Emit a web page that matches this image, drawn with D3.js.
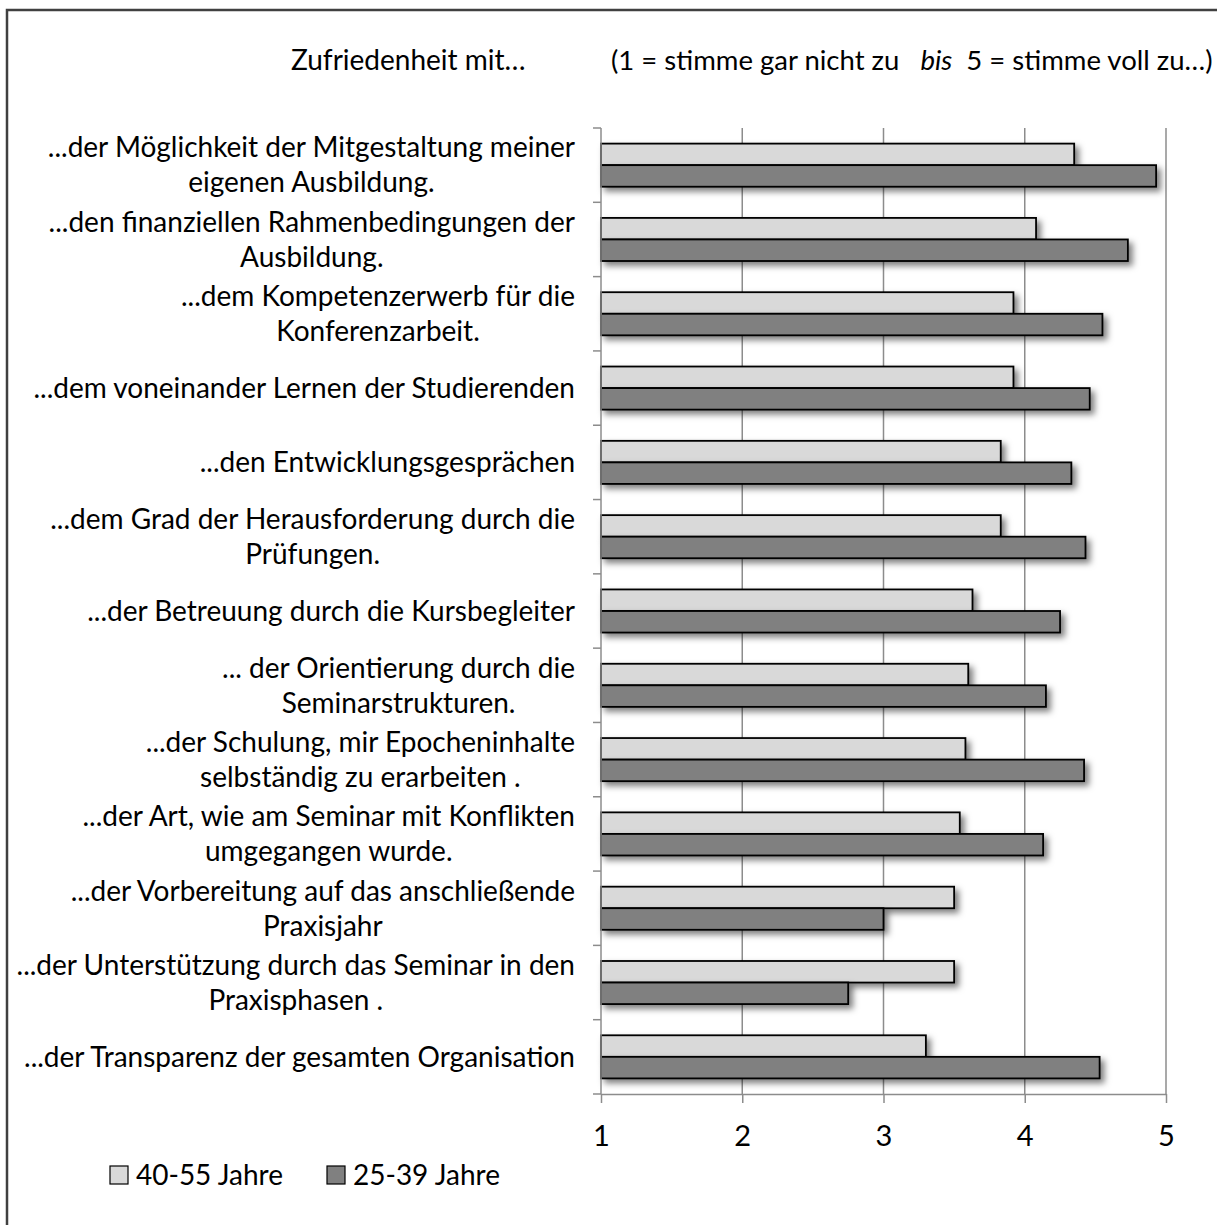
<!DOCTYPE html>
<html>
<head>
<meta charset="utf-8">
<script src="https://cdn.jsdelivr.net/npm/d3@7"></script>
<style>
  body { margin: 0; background: #fff; }
  svg text { font-family: Lato, "Open Sans", sans-serif; fill: #000; }
</style>
</head>
<body>
<svg id="chart" width="1217" height="1225"></svg>
<script>
// categories, top to bottom (line breaks as in the original labels)
const categories = [
    "...der Möglichkeit der Mitgestaltung meiner\neigenen Ausbildung.",
    "...den finanziellen Rahmenbedingungen der\nAusbildung.",
    "...dem Kompetenzerwerb für die\nKonferenzarbeit.",
    "...dem voneinander Lernen der Studierenden",
    "...den Entwicklungsgesprächen",
    "...dem Grad der Herausforderung durch die\nPrüfungen.",
    "...der Betreuung durch die Kursbegleiter",
    "... der Orientierung durch die\nSeminarstrukturen.",
    "...der Schulung, mir Epocheninhalte\nselbständig zu erarbeiten .",
    "...der Art, wie am Seminar mit Konflikten\numgegangen wurde.",
    "...der Vorbereitung auf das anschließende\nPraxisjahr",
    "...der Unterstützung durch das Seminar in den\nPraxisphasen .",
    "...der Transparenz der gesamten Organisation"
];
const seriesNames = ["40-55 Jahre", "25-39 Jahre"];
const valuesOlder = [4.35, 4.08, 3.92, 3.92, 3.83, 3.83, 3.63, 3.6, 3.58, 3.54, 3.5, 3.5, 3.3];
const valuesYounger = [4.93, 4.73, 4.55, 4.46, 4.33, 4.43, 4.25, 4.15, 4.42, 4.13, 3.0, 2.75, 4.53];
const xTicks = [1, 2, 3, 4, 5];
const seriesColors = ["#d9d9d9", "#808080"];

const svg = d3.select("#chart");

// outer frame (runs off the right and bottom edge)
svg.append("rect")
    .attr("x", 7).attr("y", 10)
    .attr("width", 1300).attr("height", 1300)
    .attr("fill", "none")
    .attr("stroke", "#404040")
    .attr("stroke-width", 2.5);

// drop shadow for the bars
const defs = svg.append("defs");
const shadow = defs.append("filter")
    .attr("id", "barShadow")
    .attr("x", "-5%").attr("y", "-40%")
    .attr("width", "115%").attr("height", "200%");
shadow.append("feDropShadow")
    .attr("dx", 4).attr("dy", 4)
    .attr("stdDeviation", 3)
    .attr("flood-color", "#000")
    .attr("flood-opacity", 0.5);

const x = d3.scaleLinear().domain([1, 5]).range([601, 1166]);
const y = d3.scaleBand().domain(d3.range(categories.length)).range([128, 1094]).padding(0);
const ySub = d3.scaleBand().domain([0, 1]).range([y.bandwidth() * 0.21, y.bandwidth() * 0.79]);

// vertical gridlines
svg.append("g")
    .selectAll("line")
    .data(xTicks.slice(1))
    .join("line")
    .attr("x1", (d) => x(d)).attr("x2", (d) => x(d))
    .attr("y1", 128).attr("y2", 1094)
    .attr("stroke", "#8c8c8c")
    .attr("stroke-width", 1.5);

// bars
const rows = categories.map((c, i) => ({ i: i, vals: [valuesOlder[i], valuesYounger[i]] }));
const barGroups = svg.append("g")
    .selectAll("g")
    .data(rows)
    .join("g")
    .attr("transform", (d) => "translate(0," + y(d.i) + ")");

barGroups.selectAll("rect")
    .data((d) => d.vals.map((v, s) => ({ v: v, s: s })))
    .join("rect")
    .attr("x", x(1))
    .attr("y", (d) => ySub(d.s))
    .attr("width", (d) => x(d.v) - x(1))
    .attr("height", ySub.bandwidth())
    .attr("fill", (d) => seriesColors[d.s])
    .attr("stroke", "#000")
    .attr("stroke-width", 1.8)
    .attr("filter", "url(#barShadow)");

// bottom axis
const xAxis = svg.append("g")
    .attr("transform", "translate(0,1094)")
    .call(d3.axisBottom(x).tickValues(xTicks).tickFormat(d3.format("d")).tickSize(9).tickSizeOuter(0).tickPadding(22));
xAxis.select(".domain").attr("stroke", "#8c8c8c").attr("stroke-width", 1.5);
xAxis.selectAll(".tick line").attr("stroke", "#8c8c8c").attr("stroke-width", 1.5);
xAxis.selectAll(".tick text").attr("font-size", 29).attr("font-family", "Lato, sans-serif").attr("fill", "#000");

// left axis line with tick marks on the band edges
svg.append("line")
    .attr("x1", x(1)).attr("x2", x(1))
    .attr("y1", 128).attr("y2", 1094)
    .attr("stroke", "#8c8c8c").attr("stroke-width", 1.5);
const bandEdges = d3.range(categories.length + 1).map((i) => (i < categories.length ? y(i) : y.range()[1]));
svg.append("g")
    .selectAll("line")
    .data(bandEdges)
    .join("line")
    .attr("x1", x(1) - 8).attr("x2", x(1))
    .attr("y1", (d) => d).attr("y2", (d) => d)
    .attr("stroke", "#8c8c8c").attr("stroke-width", 1.5);

// category labels: block right aligned, lines centred inside the block
const labelSize = 28;
const lineHeight = 35;
const labelRight = 575;
const labelGroups = svg.append("g")
    .selectAll("text")
    .data(categories)
    .join("text")
    .attr("font-size", labelSize)
    .attr("text-anchor", "middle");

labelGroups.each(function (d, i) {
    const lines = d.split("\n");
    const t = d3.select(this);
    const cy = y(i) + y.bandwidth() / 2;
    const top = cy - ((lines.length - 1) * lineHeight) / 2;
    lines.forEach((ln, k) => {
        t.append("tspan")
            .attr("y", top + k * lineHeight)
            .attr("dy", "0.35em")
            .text(ln);
    });
    // centre every line on the widest one
    let maxW = 0;
    t.selectAll("tspan").each(function () {
        maxW = Math.max(maxW, this.getComputedTextLength());
    });
    t.selectAll("tspan").attr("x", labelRight - maxW / 2);
});

// title line
svg.append("text")
    .attr("x", 291).attr("y", 70)
    .attr("font-size", labelSize)
    .text("Zufriedenheit mit…");
const scaleNote = svg.append("text")
    .attr("x", 611).attr("y", 70)
    .attr("font-size", 27.5)
    .attr("xml:space", "preserve");
scaleNote.append("tspan").text("(1 = stimme gar nicht zu   ");
scaleNote.append("tspan").attr("font-style", "italic").text("bis");
scaleNote.append("tspan").text("  5 = stimme voll zu…)");

// legend
const legendX = [110, 327];
const legend = svg.append("g")
    .selectAll("g")
    .data(seriesNames)
    .join("g")
    .attr("transform", (d, i) => "translate(" + legendX[i] + ",1166)");
legend.append("rect")
    .attr("width", 18).attr("height", 18)
    .attr("fill", (d, i) => seriesColors[i])
    .attr("stroke", "#000").attr("stroke-width", 1.2);
legend.append("text")
    .attr("x", 26).attr("y", 9)
    .attr("dy", "0.35em")
    .attr("font-size", labelSize)
    .text((d) => d);
</script>
</body>
</html>
